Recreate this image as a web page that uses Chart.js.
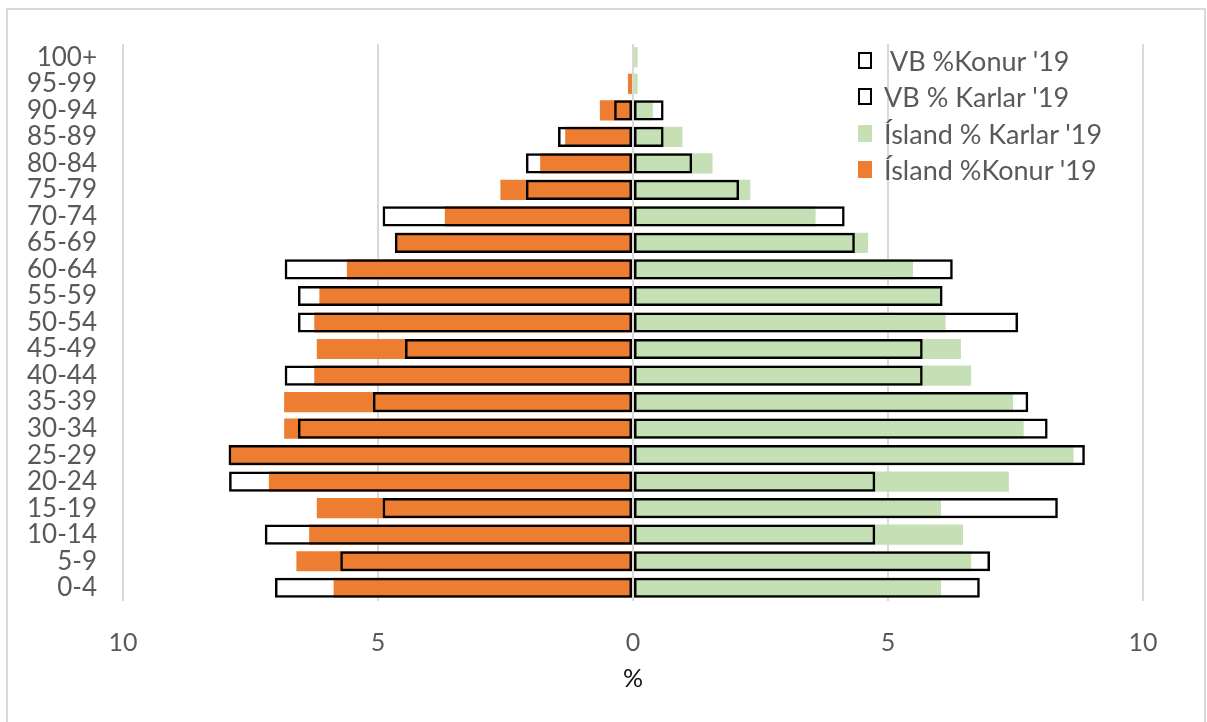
<!DOCTYPE html>
<html>
<head>
<meta charset="utf-8">
<script src="https://cdn.jsdelivr.net/npm/chart.js@4.4.1/dist/chart.umd.min.js"></script>
<style>
  html, body { margin: 0; padding: 0; background: #fff; }
  #wrap { position: relative; width: 1207px; height: 722px; }
  #frame { position: absolute; left: 6px; top: 8px; width: 1200px; height: 730px; border: 2px solid #d9d9d9; box-sizing: border-box; }
  #legend { position: absolute; left: 858px; top: 42px; font-family: Lato, sans-serif; font-size: 27px; color: #595959; }
  #legend div { height: 36.5px; display: flex; align-items: center; white-space: pre; }
  #legend span.box { display: inline-block; width: 14px; height: 17px; margin-right: 12px; box-sizing: border-box; }
</style>
</head>
<body>
<div id="wrap">
  <div id="frame"></div>
  <canvas id="c" width="1207" height="722"></canvas>
  <div id="legend"></div>
</div>
<script>
// age groups, youngest first (axis is reversed so 0-4 sits at the bottom)
const ageGroups = ['0-4','5-9','10-14','15-19','20-24','25-29','30-34','35-39','40-44','45-49',
  '50-54','55-59','60-64','65-69','70-74','75-79','80-84','85-89','90-94','95-99','100+'];

// % of population, women drawn to the left
const vbKonur      = [7.02, 5.74, 7.22, 4.91, 7.92, 7.93, 6.57, 5.10, 6.83, 4.47, 6.57, 6.57, 6.83, 4.67, 4.91, 2.10, 2.10, 1.47, 0.37, null, null];
const vbKarlar     = [6.80, 7.00, 4.75, 8.33, 4.75, 8.86, 8.13, 7.75, 5.68, 5.68, 7.55, 6.07, 6.27, 4.35, 4.15, 2.08, 1.16, 0.60, 0.60, null, null];
const islandKarlar = [6.04, 6.63, 6.47, 6.04, 7.37, 8.64, 7.66, 7.45, 6.63, 6.43, 6.13, 6.05, 5.49, 4.61, 3.58, 2.30, 1.56, 0.97, 0.39, 0.09, 0.09];
const islandKonur  = [5.87, 6.60, 6.35, 6.20, 7.14, 7.90, 6.84, 6.84, 6.25, 6.20, 6.25, 6.15, 5.61, 4.65, 3.69, 2.60, 1.82, 1.33, 0.65, 0.10, 0.02];

const xTicks = [-10, -5, 0, 5, 10];

const orange = '#ED7D31';
const green = '#C5E0B4';
const neg = arr => arr.map(v => v === null ? null : -v);

const outline = { backgroundColor: 'rgba(0,0,0,0)', borderColor: '#000', borderWidth: 2.5, borderSkipped: false };
const datasets = [
  Object.assign({ label: " VB %Konur '19", data: neg(vbKonur) }, outline),
  Object.assign({ label: "VB % Karlar '19", data: vbKarlar }, outline),
  { label: "Ísland % Karlar '19", data: islandKarlar, backgroundColor: green, borderWidth: 0 },
  { label: "Ísland %Konur '19", data: neg(islandKonur), backgroundColor: orange, borderWidth: 0 }
];
datasets.forEach(d => { d.grouped = false; d.barPercentage = 0.76; d.categoryPercentage = 1; });

const ctx = document.getElementById('c');
const chart = new Chart(ctx, {
  type: 'bar',
  data: { labels: ageGroups, datasets: datasets },
  options: {
    indexAxis: 'y',
    responsive: false,
    animation: false,
    layout: { padding: { left: 0, right: 64, top: 44, bottom: 0 } },
    plugins: { legend: { display: false }, tooltip: { enabled: false } },
    scales: {
      x: {
        min: -10, max: 10,
        afterBuildTicks: s => { s.ticks = xTicks.map(v => ({ value: v })); },
        afterFit: s => { s.height = 121; },
        grid: { color: '#d9d9d9', lineWidth: 2, drawTicks: false },
        border: { display: false },
        ticks: {
          color: '#595959', padding: 27,
          font: { family: 'Lato', size: 25 },
          callback: v => Math.abs(v)
        },
        title: { display: true, text: '%', color: '#111', font: { family: 'Lato', size: 25 }, padding: { top: 4, bottom: 28 } }
      },
      y: {
        reverse: true,
        afterFit: s => { s.width = 123; },
        grid: { display: false },
        border: { display: false },
        ticks: { color: '#595959', padding: 18, autoSkip: false, font: { family: 'Lato', size: 26 } }
      }
    }
  }
});

// legend in the plot corner, same order as the datasets
const legend = document.getElementById('legend');
datasets.forEach(d => {
  const row = document.createElement('div');
  const box = document.createElement('span');
  box.className = 'box';
  if (d.borderWidth) {
    box.style.border = '2.5px solid #000';
  } else {
    box.style.background = d.backgroundColor;
  }
  row.appendChild(box);
  row.appendChild(document.createTextNode(d.label));
  legend.appendChild(row);
});
</script>
</body>
</html>
